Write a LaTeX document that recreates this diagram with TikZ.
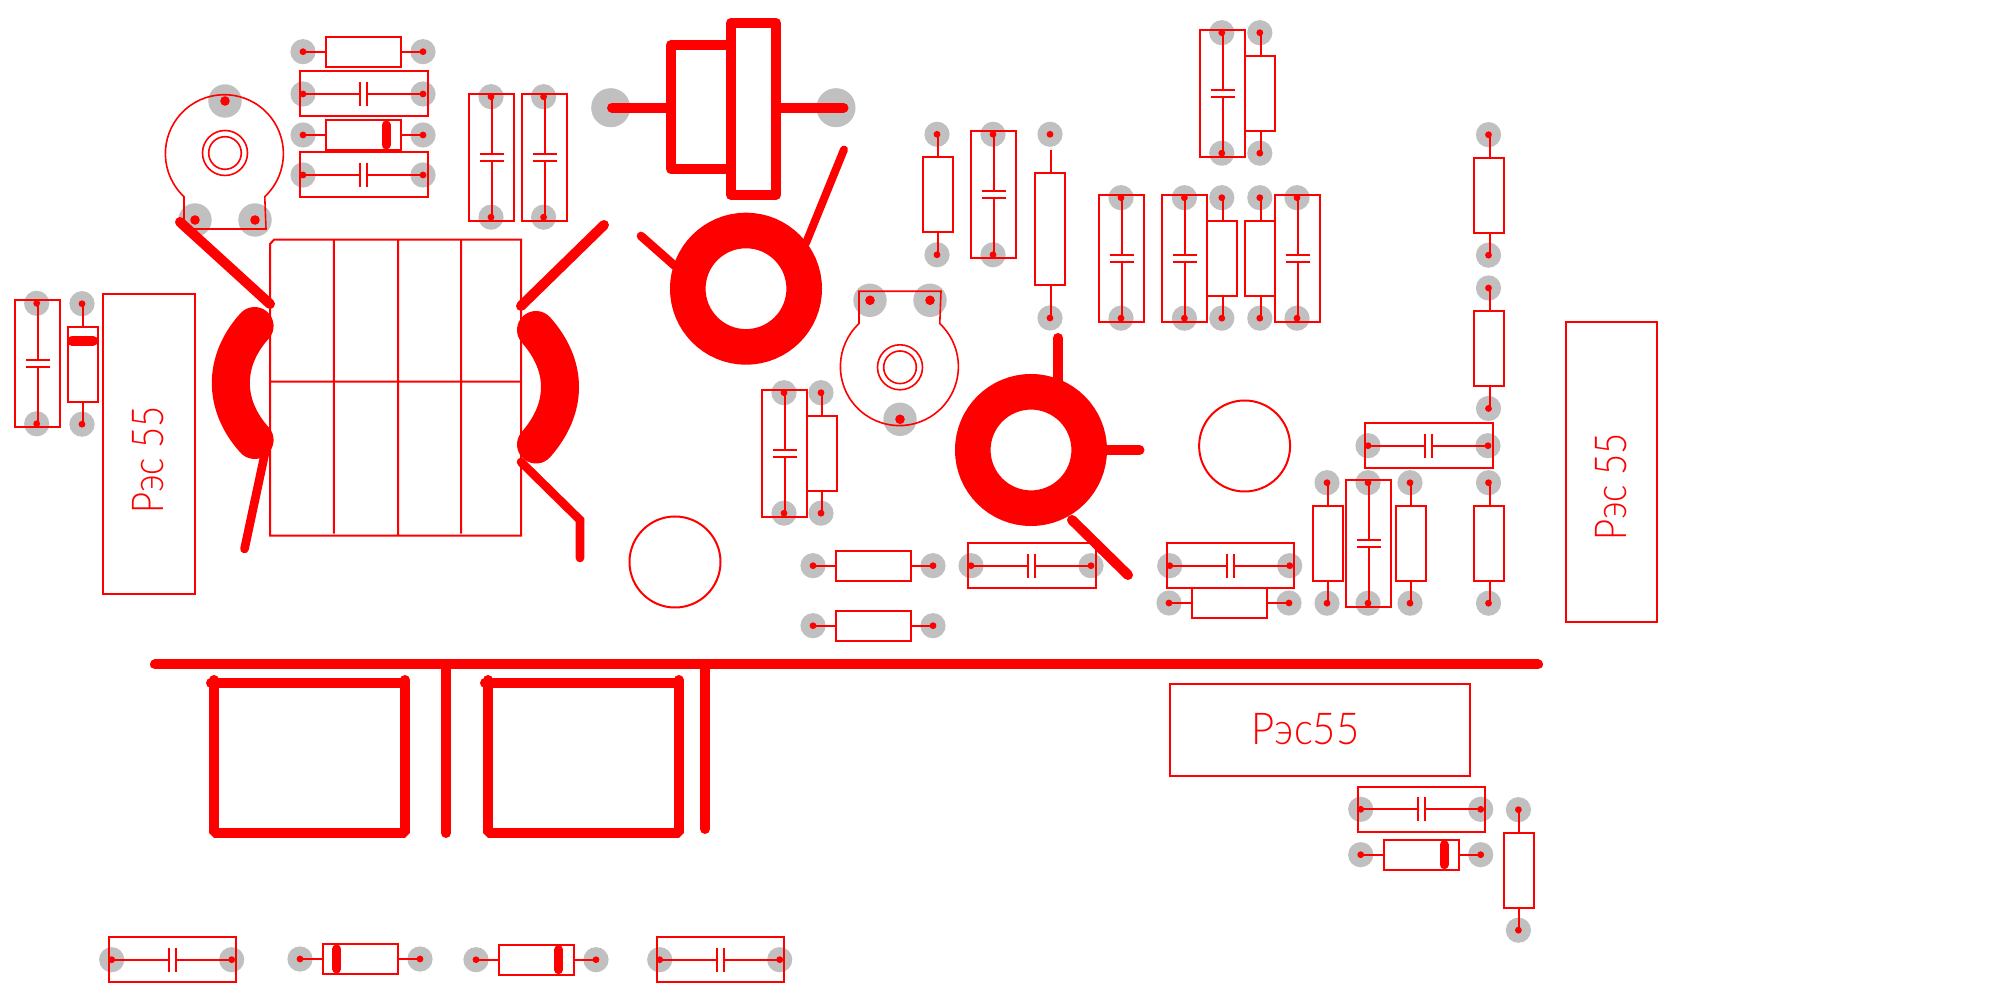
\documentclass[tikz,border=0pt]{standalone}
\usepackage{fontspec}
\newfontfamily\pcbfont{Lato Light}
\definecolor{padc}{HTML}{C0C0C0}
\definecolor{tr}{HTML}{FF0000}
\pgfdeclarelayer{bg}
\pgfsetlayers{bg,main}
\tikzset{
  thinl/.style={draw=tr,line width=1pt},
  hair/.style={draw=tr,line width=0.8pt},
  trace/.style={draw=tr,line width=5pt,line cap=round},
  tracen/.style={draw=tr,line width=4.3pt,line cap=round},
  marktxt/.style={text=tr,inner sep=0pt},
}
% pads
\newcommand\pcbpad[2]{\begin{pgfonlayer}{bg}\fill[padc] (#1,#2) circle (12.6);\end{pgfonlayer}\fill[tr] (#1,#2) circle (3.4);}
\newcommand\bigpad[2]{\begin{pgfonlayer}{bg}\fill[padc] (#1,#2) circle (16.7);\end{pgfonlayer}\fill[tr] (#1,#2) circle (4.8);}
% horizontal resistor: first pad at x,y
\newcommand\resh[2]{\begin{scope}[shift={(#1,#2)}]
  \pcbpad{0}{0}\pcbpad{120}{0}
  \draw[thinl] (0,0)--(23,0) (98,0)--(120,0) (23,-15) rectangle (98,15);
\end{scope}}
% vertical resistor
\newcommand\resv[2]{\begin{scope}[shift={(#1,#2)}]
  \pcbpad{0}{0}\pcbpad{0}{120.5}
  \draw[thinl] (1,0)--(1,23.2) (1,98)--(1,120.5) (-14.5,23.2) rectangle (15.5,98);
\end{scope}}
% horizontal capacitor
\newcommand\caph[2]{\begin{scope}[shift={(#1,#2)}]
  \pcbpad{0}{0}\pcbpad{120}{0}
  \draw[thinl] (0,0)--(57,0) (64,0)--(120,0) (-3,-22.5) rectangle (124.5,22.5)
    (57,-12)--(57,12) (64,-12)--(64,12);
\end{scope}}
% vertical capacitor
\newcommand\capv[2]{\begin{scope}[shift={(#1,#2)}]
  \pcbpad{0}{0}\pcbpad{0}{120.5}
  \draw[thinl] (1,0)--(1,57) (1,64)--(1,120.5) (-22,-3) rectangle (23,124)
    (-11,57)--(13,57) (-11,64)--(13,64);
\end{scope}}
% horizontal diode, #3 = band offset from first pad
\newcommand\diodeh[3]{\begin{scope}[shift={(#1,#2)}]
  \pcbpad{0}{0}\pcbpad{120}{0}
  \draw[thinl] (0,0)--(23,0) (98,0)--(120,0) (23,-15) rectangle (98,15);
  \draw[draw=tr,line width=4.5pt,line cap=round] (#3,-10)--(#3,10);
\end{scope}}
% trimmer, #3 = 1 normal, -1 flipped
\newcommand\trimmer[3]{\begin{scope}[shift={(#1,#2)},yscale=#3]
  \draw[hair,line join=miter] (-41,43.7) arc[start angle=133.2,end angle=406.8,radius=59]
     -- (41,76) -- (-41,76) -- cycle;
  \draw[hair] (0,0) circle (22.5) (0,0) circle (16.3);
  \bigpad{0}{-52}\bigpad{-30}{67}\bigpad{30}{67}
\end{scope}}
% toroid
\newcommand\toroid[2]{\draw[draw=tr,line width=17.8pt] (#1,#2) circle (58.2);}
\begin{document}
\begin{tikzpicture}[x=0.5pt,y=-0.5pt]
\useasboundingbox (0,0) rectangle (2008,1004);
\begin{pgfonlayer}{bg}\fill[white] (0,0) rectangle (2008,1004);\end{pgfonlayer}

% top-left block
\resh{303}{51.7}
\caph{303}{94}
\diodeh{303}{135}{83}
\caph{303}{175}
\capv{491}{96.7}
\capv{543.6}{96.7}
\trimmer{225}{153}{1}

% left column
\capv{36.7}{303.3}
\begin{scope}[shift={(82,303.7)}]
  \pcbpad{0}{0}\pcbpad{0}{120.5}
  \draw[thinl] (1,0)--(1,23) (1,98)--(1,120.5) (-14.5,23) rectangle (16,98.5);
  \draw[draw=tr,line width=5pt,line cap=round] (-10,37)--(11,37);
\end{scope}
\draw[thinl] (103,293.7) rectangle (195.3,594);
\node[marktxt,rotate=90] (markA) at (148,460) {\scalebox{0.83}[1]{\pcbfont\fontsize{22}{22}\selectfont Рэс 55}};

% transformer
\draw[hair,line width=1pt] (270,244)--(274,239.7)--(521,239.7)--(521,535.7)--(270,535.7)--cycle
  (333.8,239.7)--(333.8,533.7) (398,239.7)--(398,535.7) (461,239.7)--(461,533.7)
  (270,381.7)--(521,381.7);
\draw[draw=tr,line width=19pt,line cap=round] (254.6,326) .. controls (222.9,361) and (222.9,405) .. (254.6,440);
\draw[draw=tr,line width=19pt,line cap=round] (536,330) .. controls (568,366) and (568,408) .. (536,444.5);
\draw[trace] (180,222)--(270,304);
\draw[trace] (604,225)--(521,306);
\draw[tracen] (265,453)--(244.5,549);
\draw[tracen,line join=miter] (521,462)--(580,520)--(580,558);

% crystal
\begin{pgfonlayer}{bg}\fill[padc] (610.7,107.7) circle (19.5) (836,107.7) circle (19.5);\end{pgfonlayer}
\draw[trace] (612,107.7)--(671,107.7);
\draw[trace] (776,107.7)--(843.5,107.7);
\draw[trace,line join=round] (731,45)--(671,45)--(671,169)--(731,169);
\draw[trace,line join=round] (731,23) rectangle (776,195);

% toroid 1
\toroid{746}{288.7}
\draw[draw=tr,line width=4pt,line cap=round] (844,149.5)--(806,243);
\draw[tracen] (641,236)--(675,266);

% top-middle column
\resv{937}{134.3}
\capv{993}{134.3}
\pcbpad{1050}{134.3}\pcbpad{1050}{318}
\draw[thinl] (1051,150)--(1051,172.7) (1051,285.3)--(1051,318) (1035,172.7) rectangle (1065,285.3);
\capv{1121}{197.7}
\capv{1184.4}{197.7}
\resv{1221.8}{197.7}
\resv{1259.8}{197.7}
\capv{1297}{197.7}
\capv{1221.8}{32.7}
\resv{1259.8}{32.7}

% right column
\resv{1488.5}{134.7}
\resv{1488.5}{288}
\resv{1488.5}{482.7}
\caph{1368}{445.7}
\resv{1327}{482.7}
\capv{1368}{482.7}
\resv{1410}{482.7}
\draw[thinl] (1566,322) rectangle (1657,622);
\node[marktxt,rotate=90] (markB) at (1611,487) {\scalebox{0.83}[1]{\pcbfont\fontsize{22}{22}\selectfont Рэс 55}};

% middle
\capv{784}{392.7}
\resv{821}{392.7}
\trimmer{900}{367.3}{-1}
\toroid{1031}{450}
\draw[trace] (1058,338)--(1058,382);
\draw[trace] (1100,450)--(1139.5,450);
\draw[trace] (1072,520)--(1128,575);
\draw[hair,line width=1pt] (675,562) circle (45.5);
\draw[hair,line width=1pt] (1244.6,446) circle (45.5);
\resh{813}{565.7}
\resh{813}{625.7}
\caph{971}{565.7}
\caph{1169.7}{565.7}
\resh{1169}{603}

% bus and loops
\draw[trace] (155,664.5)--(1538,664.5);
\draw[trace] (446,664.5)--(446,833);
\draw[trace] (705,664.5)--(705,829);
\draw[trace,line join=bevel] (214,680)--(214,832.7)--(405,832.7)--(405,680);
\draw[trace] (211,683)--(405,683);
\draw[trace,line join=bevel] (488,680)--(488,832.7)--(678.7,832.7)--(678.7,680);
\draw[trace] (485,683)--(678.7,683);

% bottom-right
\draw[thinl] (1170,683.7) rectangle (1470,776);
\node[marktxt] (markC) at (1305.6,729) {\scalebox{0.91}[1]{\pcbfont\fontsize{22}{22}\selectfont Рэс55}};
\caph{1360.7}{809.3}
\diodeh{1360.7}{854.7}{83.3}
\resv{1518.4}{809.7}

% bottom row
\caph{111.7}{959.7}
\diodeh{300}{959}{36.7}
\diodeh{476}{959.7}{82.7}
\caph{659.7}{959.7}
\end{tikzpicture}
\end{document}
